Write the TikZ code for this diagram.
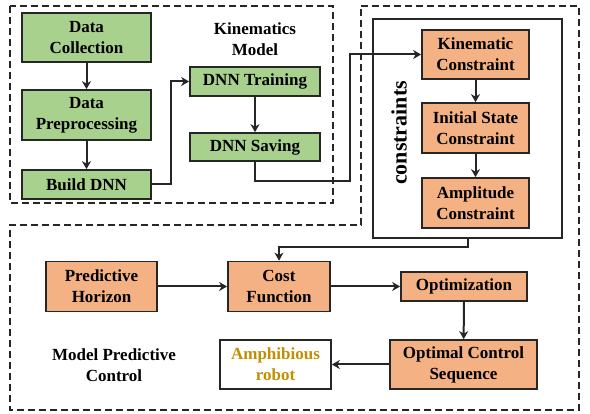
\documentclass[tikz,border=0pt]{standalone}
\usepackage{fontspec}
\setmainfont{Liberation Serif}
\usetikzlibrary{arrows.meta}
\definecolor{boxgreen}{RGB}{169,209,142}
\definecolor{boxorange}{RGB}{244,177,131}
\definecolor{robotgold}{RGB}{191,144,0}
\definecolor{edge}{RGB}{38,38,38}

\begin{document}
\begin{tikzpicture}[x=1pt,y=-1pt,
  blk/.style={draw=edge,line width=1.7pt,align=center,inner sep=0pt,font=\fontsize{17}{21}\selectfont\bfseries},
  grn/.style={blk,fill=boxgreen},
  org/.style={blk,fill=boxorange},
  lbl/.style={align=center,font=\fontsize{17}{21}\selectfont\bfseries},
  arr/.style={draw=edge,line width=2pt,-{Stealth[length=8pt,width=9pt,inset=2.5pt]}},
  dsh/.style={draw=edge,line width=1.6pt,dash pattern=on 7pt off 4pt}]
\useasboundingbox (0,0) rectangle (590,414);
\draw[dsh] (10,6) rectangle (333,203);
\draw[dsh] (361,6)--(579,6)--(579,410)--(10,410)--(10,225)--(361,225)--cycle;
% kinematics model
\node[grn,minimum width=129pt,minimum height=49pt] (dc) at (86.5,37.5) {Data\\Collection};
\node[grn,minimum width=129pt,minimum height=50pt] (dp) at (86.5,115) {Data\\Preprocessing};
\node[grn,minimum width=129pt,minimum height=29pt] (bd) at (86.5,184.5) {Build DNN};
\node[lbl] (kin) at (255,39) {Kinematics\\Model};
\node[grn,minimum width=130pt,minimum height=29pt] (tr) at (255,81.5) {DNN Training};
\node[grn,minimum width=130pt,minimum height=28pt] (sv) at (255,147) {DNN Saving};
% constraints
\node[draw=edge,line width=1.7pt,minimum width=189pt,minimum height=219pt] (cons) at (467.5,128.5) {};
\node[rotate=90,font=\fontsize{22}{26}\selectfont\bfseries] (conslab) at (399,133) {constraints};
\node[org,minimum width=107pt,minimum height=49pt] (kc) at (475.5,54.5) {Kinematic\\Constraint};
\node[org,minimum width=107pt,minimum height=50pt] (is) at (475.5,128) {Initial State\\Constraint};
\node[org,minimum width=107pt,minimum height=50pt] (am) at (475.5,203) {Amplitude\\Constraint};
% model predictive control
\node[org,minimum width=111pt,minimum height=50pt] (ph) at (101.5,286.5) {Predictive\\Horizon};
\node[org,minimum width=102pt,minimum height=50pt] (cf) at (279,286.5) {Cost\\Function};
\node[org,minimum width=126pt,minimum height=29pt] (op) at (464,286.5) {Optimization};
\node[org,minimum width=147pt,minimum height=49pt] (ocs) at (463.5,364.5) {Optimal Control\\Sequence};
\node[blk,fill=white,text=robotgold,minimum width=111pt,minimum height=49pt] (rb) at (275.5,364.5) {Amphibious\\robot};
\node[lbl] (mpc) at (114,365) {Model Predictive\\Control};
% connectors
\draw[arr] (dc)--(dp);
\draw[arr] (dp)--(bd);
\draw[arr] (bd.east)--++(19,0)|-(tr.west);
\draw[arr] (tr)--(sv);
\draw[arr] (sv.south)--++(0,19)--++(95,0)|-(kc.west);
\draw[arr] (kc)--(is);
\draw[arr] (is)--(am);
\draw[arr] (cons.south)--++(0,8)-|(cf.north);
\draw[arr] (ph)--(cf);
\draw[arr] (cf)--(op);
\draw[arr] (op)--(ocs);
\draw[arr] (ocs)--(rb);
\end{tikzpicture}
\end{document}
